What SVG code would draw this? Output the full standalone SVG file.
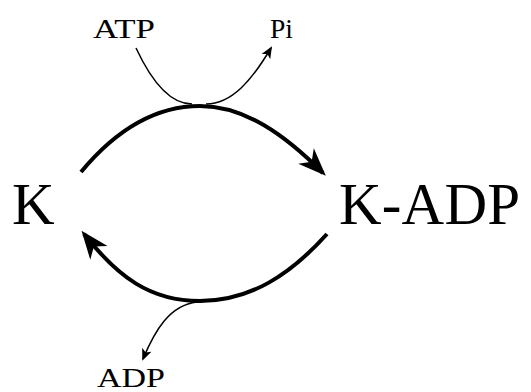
<svg xmlns="http://www.w3.org/2000/svg" width="531" height="392" viewBox="0 0 531 392">
<style>
.t{font-family:'Liberation Serif','DejaVu Serif',serif;fill:#000}
.big{font-size:59px}
.sm{font-size:28px}
.thick{fill:none;stroke:#000;stroke-width:4;stroke-linecap:butt}
.thin{fill:none;stroke:#000;stroke-width:1.5}
</style>
<defs>
<marker id="bigArrow" markerUnits="userSpaceOnUse" markerWidth="40" markerHeight="30" viewBox="-30 -15 40 30" refX="0" refY="0" orient="auto">
<path d="M4,0 L-24,-11 L-16,0 L-24,11 Z" fill="#000"/>
</marker>
<marker id="smArrow" markerUnits="userSpaceOnUse" markerWidth="20" markerHeight="16" viewBox="-14 -8 20 16" refX="0" refY="0" orient="auto">
<path d="M2,0 L-10,-5 L-7,0 L-10,5 Z" fill="#000"/>
</marker>
</defs>
<g id="node-K"><text class="t big" x="12" y="224" textLength="43">K</text></g>
<g id="node-KADP"><text class="t big" x="339" y="224" textLength="181">K-ADP</text></g>
<g id="node-ATP"><text class="t sm" x="93" y="38" textLength="62" lengthAdjust="spacingAndGlyphs">ATP</text></g>
<g id="node-Pi"><text class="t sm" x="270" y="38" textLength="23" lengthAdjust="spacingAndGlyphs">Pi</text></g>
<g id="node-ADP"><text class="t sm" x="97" y="387" textLength="68" lengthAdjust="spacingAndGlyphs">ADP</text></g>
<g id="connectors">
<path class="thick" d="M81,172 C120,125 160,106 200,106 C245,106 285,135 323,173" marker-end="url(#bigArrow)"/>
<path class="thick" d="M327,234 C290,275 250,301 200,301 C150,301 118,277 84,234" marker-end="url(#bigArrow)"/>
<path class="thin" d="M136,48 C150,78 168,104 192,104"/>
<path class="thin" d="M206,104 C232,104 252,80 271,48" marker-end="url(#smArrow)"/>
<path class="thin" d="M197,302 C170,305 155,330 143,359" marker-end="url(#smArrow)"/>
</g>
</svg>
